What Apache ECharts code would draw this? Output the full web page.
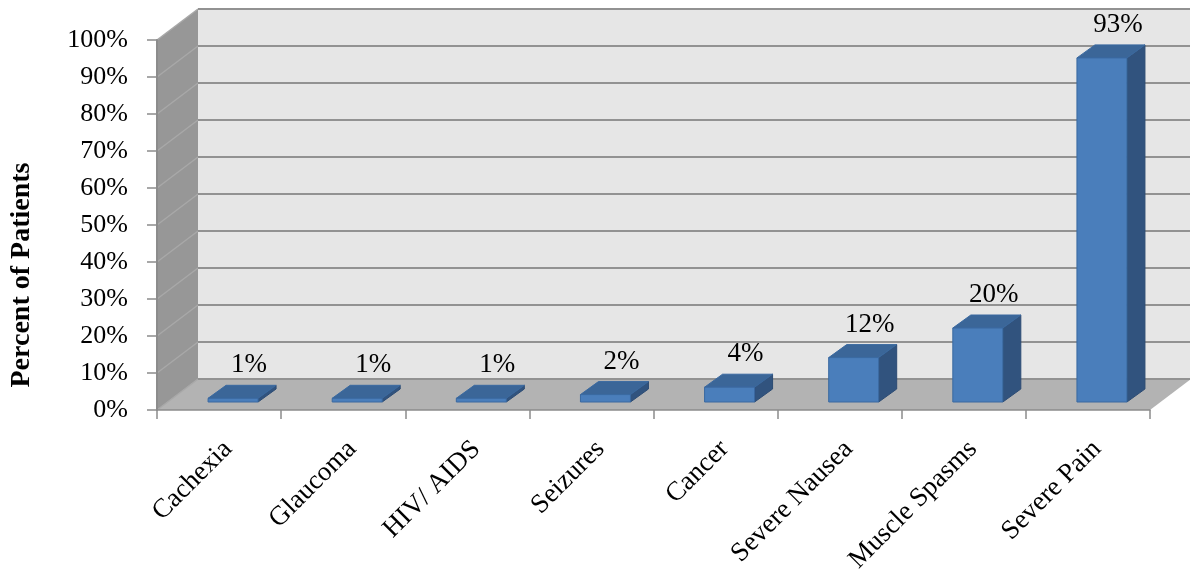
<!DOCTYPE html>
<html><head><meta charset="utf-8">
<script src="https://cdn.jsdelivr.net/npm/echarts@6/dist/echarts.min.js"></script>
<style>html,body{margin:0;padding:0;background:#fff}#c{width:1190px;height:578px}</style>
</head><body><div id="c"></div>
<script>
const categories = ['Cachexia', 'Glaucoma', 'HIV/ AIDS', 'Seizures', 'Cancer', 'Severe Nausea', 'Muscle Spasms', 'Severe Pain'];
const percentValues = [1, 1, 1, 2, 4, 12, 20, 93];
const yTicks = [0, 10, 20, 30, 40, 50, 60, 70, 80, 90, 100];
const yTitle = 'Percent of Patients';

const FONT = '"Liberation Serif", "Times New Roman", serif';
const DEPTH = [41, -31];
const BAR_OFF = [14, -8];
const BAR_DEPTH = [18, -13];
const BAR_W = 50;

const chart = echarts.init(document.getElementById('c'), null, {renderer: 'canvas'});

function wallsItem(params, api) {
  const cs = params.coordSys;
  const L = cs.x, T = cs.y, R = cs.x + cs.width, B = cs.y + cs.height;
  const dx = DEPTH[0], dy = DEPTH[1];
  return {type: 'group', children: [
    {type: 'rect', shape: {x: L + dx, y: T + dy, width: R - L, height: B - T}, style: {fill: '#e6e6e6'}},
    {type: 'polygon', shape: {points: [[L, T], [L + dx, T + dy], [L + dx, B + dy], [L, B]]}, style: {fill: '#979797'}},
    {type: 'polygon', shape: {points: [[L, B], [R, B], [R + dx, B + dy], [L + dx, B + dy]]}, style: {fill: '#b3b3b3'}}
  ]};
}

function gridItem(params, api) {
  const cs = params.coordSys;
  const L = cs.x, R = cs.x + cs.width;
  const dx = DEPTH[0], dy = DEPTH[1];
  const y = api.coord([0, api.value(1)])[1];
  return {type: 'group', children: [
    {type: 'line', shape: {x1: L, y1: y, x2: L + dx, y2: y + dy}, style: {stroke: '#a8a8a8', lineWidth: 1.5}},
    {type: 'line', shape: {x1: L + dx, y1: y + dy, x2: R + dx, y2: y + dy}, style: {stroke: '#929292', lineWidth: 2}}
  ]};
}

function barItem(params, api) {
  const i = api.value(0), v = api.value(1);
  const base = api.coord([i, 0]), top = api.coord([i, v]);
  const cx = base[0] + BAR_OFF[0];
  const xL = cx - BAR_W / 2, xR = cx + BAR_W / 2;
  const yB = base[1] + BAR_OFF[1], yT = top[1] + BAR_OFF[1];
  const bx = BAR_DEPTH[0], by = BAR_DEPTH[1];
  const edge = '#3a69a0';
  return {type: 'group', children: [
    {type: 'polygon', shape: {points: [[xR, yT], [xR + bx, yT + by], [xR + bx, yB + by], [xR, yB]]}, style: {fill: '#31537e', stroke: '#2c4b73', lineWidth: 1}},
    {type: 'polygon', shape: {points: [[xL, yT], [xL + bx, yT + by], [xR + bx, yT + by], [xR, yT]]}, style: {fill: '#3b6698', stroke: edge, lineWidth: 1}},
    {type: 'rect', shape: {x: xL, y: yT, width: BAR_W, height: yB - yT}, style: {fill: '#4a7ebb', stroke: edge, lineWidth: 1}},
    {type: 'text', x: cx + 16, y: yT - 33, style: {text: v + '%', font: '27px ' + FONT, fill: '#000', align: 'center', verticalAlign: 'middle'}}
  ]};
}

const option = {
  animation: false,
  backgroundColor: '#ffffff',
  grid: [
    {left: 157, right: 40, top: 40, bottom: 168},
    {left: 166, right: 31, top: 40, bottom: 168}
  ],
  xAxis: [
    {type: 'category', data: categories, gridIndex: 0, z: 10,
      axisLine: {show: true, lineStyle: {color: '#8c8c8c', width: 1.5}},
      axisTick: {show: true, length: 9, lineStyle: {color: '#8c8c8c', width: 1.5}},
      axisLabel: {show: false}, splitLine: {show: false}},
    {type: 'category', data: categories, gridIndex: 1,
      axisLine: {show: false}, axisTick: {show: false}, splitLine: {show: false},
      axisLabel: {rotate: 45, interval: 0, margin: 35, fontFamily: FONT, fontSize: 27, color: '#000'}}
  ],
  yAxis: [
    {type: 'value', min: 0, max: 100, interval: 10, gridIndex: 0, z: 10,
      axisLine: {show: true, lineStyle: {color: '#8c8c8c', width: 2}},
      axisTick: {show: true, length: 10, lineStyle: {color: '#8c8c8c', width: 1.5}},
      axisLabel: {formatter: '{value}%', margin: 29, fontFamily: FONT, fontSize: 26, color: '#000'},
      splitLine: {show: false}},
    {type: 'value', min: 0, max: 100, gridIndex: 1, show: false, splitLine: {show: false}}
  ],
  graphic: [
    {type: 'text', x: 22, y: 275, rotation: Math.PI / 2,
      style: {text: yTitle, font: 'bold 28px ' + FONT, fill: '#000', align: 'center', verticalAlign: 'middle'}}
  ],
  series: [
    {type: 'custom', name: 'walls', z: 1, silent: true, xAxisIndex: 0, yAxisIndex: 0,
      data: [[0, 0]], renderItem: wallsItem},
    {type: 'custom', name: 'grid', z: 2, silent: true, xAxisIndex: 0, yAxisIndex: 0,
      data: yTicks.map(v => [0, v]), renderItem: gridItem},
    {type: 'custom', name: 'bars', z: 3, silent: true, xAxisIndex: 0, yAxisIndex: 0,
      data: percentValues.map((v, i) => [i, v]), renderItem: barItem}
  ]
};
chart.setOption(option);
</script>
</body></html>
